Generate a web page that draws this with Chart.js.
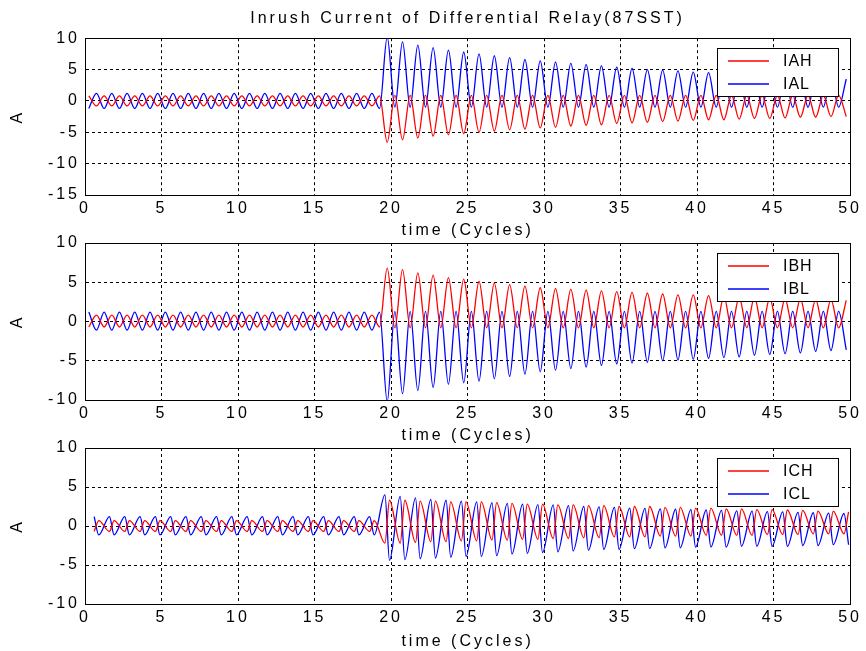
<!DOCTYPE html>
<html>
<head>
<meta charset="utf-8">
<script src="https://cdn.jsdelivr.net/npm/chart.js@4"></script>
<style>
  body { margin: 0; background: #fff; }
  .plot { position: absolute; left: 0; }
</style>
</head>
<body>
<canvas id="c1" class="plot" width="866" height="240" style="top:0px"></canvas>
<canvas id="c2" class="plot" width="866" height="230" style="top:215px"></canvas>
<canvas id="c3" class="plot" width="866" height="231" style="top:420px"></canvas>
<script>
// ---------- Data (per cycle peaks) ----------
var cycles = [0,1,2,3,4,5,6,7,8,9,10,11,12,13,14,15,16,17,18,19,20,21,22,23,24,
  25,26,27,28,29,30,31,32,33,34,35,36,37,38,39,40,41,42,43,44,45,46,47,48,49];
var xTicks = [0, 5, 10, 15, 20, 25, 30, 35, 40, 45, 50];

// phase A
var IAH_hi = [0.8,0.8,0.8,0.8,0.8,0.8,0.8,0.8,0.8,0.8,0.8,0.8,0.8,0.8,0.8,0.8,0.8,0.8,0.8,0.8,
  0.9,0.9,0.9,0.9,0.9,0.9,0.9,0.9,0.9,0.9,0.9,0.9,0.9,0.9,0.9,0.9,0.9,0.9,0.9,0.9,0.9,0.9,0.9,0.9,0.9,0.9,0.9,0.9,0.9,0.9];
var IAH_lo = [-0.8,-0.8,-0.8,-0.8,-0.8,-0.8,-0.8,-0.8,-0.8,-0.8,-0.8,-0.8,-0.8,-0.8,-0.8,-0.8,-0.8,-0.8,-0.8,
  -6.6,-6.2,-5.9,-5.6,-5.4,-5.2,-5.0,-4.8,-4.6,-4.5,-4.3,-4.2,-4.0,-3.9,-3.8,-3.6,-3.5,-3.4,-3.3,-3.2,-3.1,
  -3.0,-3.0,-2.9,-2.8,-2.8,-2.7,-2.6,-2.6,-2.5,-2.5];
var IAL_hi = [1.2,1.2,1.2,1.2,1.2,1.2,1.2,1.2,1.2,1.2,1.2,1.2,1.2,1.2,1.2,1.2,1.2,1.2,1.2,
  10.2,9.4,8.9,8.5,8.1,7.8,7.5,7.2,6.9,6.6,6.4,6.2,6.0,5.8,5.6,5.4,5.2,5.0,4.9,4.8,4.6,
  4.5,4.4,4.3,4.2,4.1,4.0,3.9,3.8,3.7,3.5];
var IAL_lo = [-1.2,-1.2,-1.2,-1.2,-1.2,-1.2,-1.2,-1.2,-1.2,-1.2,-1.2,-1.2,-1.2,-1.2,-1.2,-1.2,-1.2,-1.2,-1.2,-1.2,
  -1.0,-1.0,-1.0,-1.0,-1.0,-1.0,-1.0,-1.0,-1.0,-1.0,-1.0,-1.0,-1.0,-1.0,-1.0,-1.0,-1.0,-1.0,-1.0,-1.0,-1.0,-1.0,-1.0,-1.0,-1.0,-1.0,-1.0,-1.0,-1.0,-1.0];

// phase B
var IBH_hi = [0.8,0.8,0.8,0.8,0.8,0.8,0.8,0.8,0.8,0.8,0.8,0.8,0.8,0.8,0.8,0.8,0.8,0.8,0.8,
  6.8,6.6,6.2,5.9,5.6,5.4,5.1,4.9,4.7,4.5,4.3,4.2,4.1,4.0,3.9,3.8,3.7,3.6,3.5,3.4,3.4,
  3.3,3.2,3.1,3.1,3.0,2.9,2.9,2.8,2.8,2.7];
var IBH_lo = [-0.7,-0.7,-0.7,-0.7,-0.7,-0.7,-0.7,-0.7,-0.7,-0.7,-0.7,-0.7,-0.7,-0.7,-0.7,-0.7,-0.7,-0.7,-0.7,-0.7,
  -0.8,-0.8,-0.8,-0.8,-0.8,-0.8,-0.8,-0.8,-0.8,-0.8,-0.8,-0.8,-0.8,-0.8,-0.8,-0.8,-0.8,-0.8,-0.8,-0.8,-0.8,-0.8,-0.8,-0.8,-0.8,-0.8,-0.8,-0.8,-0.8,-0.8];
var IBL_hi = [1.2,1.2,1.2,1.2,1.2,1.2,1.2,1.2,1.2,1.2,1.2,1.2,1.2,1.2,1.2,1.2,1.2,1.2,1.2,1.2,
  1.3,1.3,1.3,1.3,1.3,1.3,1.3,1.3,1.3,1.3,1.3,1.3,1.3,1.3,1.3,1.3,1.3,1.3,1.3,1.3,1.3,1.3,1.3,1.3,1.3,1.3,1.3,1.3,1.3,1.3];
var IBL_lo = [-1.1,-1.1,-1.1,-1.1,-1.1,-1.1,-1.1,-1.1,-1.1,-1.1,-1.1,-1.1,-1.1,-1.1,-1.1,-1.1,-1.1,-1.1,-1.1,
  -10.2,-9.2,-8.8,-8.4,-8.0,-7.8,-7.6,-7.3,-7.0,-6.7,-6.4,-6.2,-6.0,-5.8,-5.6,-5.4,-5.3,-5.2,-5.0,-4.9,-4.8,
  -4.7,-4.6,-4.5,-4.3,-4.2,-4.1,-4.0,-3.8,-3.7,-3.6];

// phase C
var ICH_hi = [0.7,0.7,0.7,0.7,0.7,0.7,0.7,0.7,0.7,0.7,0.7,0.7,0.7,0.7,0.7,0.7,0.7,0.7,0.7,
  3.3,3.3,3.2,3.2,3.1,3.1,3.1,3.0,2.9,2.8,2.8,2.7,2.7,2.6,2.6,2.5,2.5,2.5,2.4,2.4,2.3,
  2.3,2.2,2.2,2.1,2.1,2.05,2.0,1.9,1.9,1.8];
var ICH_lo = [-0.7,-0.7,-0.7,-0.7,-0.7,-0.7,-0.7,-0.7,-0.7,-0.7,-0.7,-0.7,-0.7,-0.7,-0.7,-0.7,-0.7,-0.7,-0.7,
  -2.2,-2.2,-2.1,-2.0,-2.0,-1.9,-1.9,-1.8,-1.8,-1.7,-1.7,-1.6,-1.6,-1.5,-1.5,-1.4,-1.4,-1.4,-1.3,-1.3,
  -1.3,-1.2,-1.2,-1.2,-1.2,-1.1,-1.1,-1.1,-1.0,-1.0,-1.0];
var ICL_hi = [1.2,1.2,1.2,1.2,1.2,1.2,1.2,1.2,1.2,1.2,1.2,1.2,1.2,1.2,1.2,1.2,1.2,1.2,1.2,
  4.0,3.8,3.6,3.4,3.3,3.2,3.1,3.0,2.9,2.8,2.75,2.7,2.6,2.5,2.45,2.4,2.3,2.25,2.2,2.15,2.1,
  2.05,2.0,1.95,1.9,1.85,1.8,1.75,1.7,1.65,1.6];
var ICL_lo = [-1.15,-1.15,-1.15,-1.15,-1.15,-1.15,-1.15,-1.15,-1.15,-1.15,-1.15,-1.15,-1.15,-1.15,-1.15,-1.15,-1.15,-1.15,-1.15,
  -4.4,-4.3,-4.2,-4.1,-4.0,-3.9,-3.9,-3.8,-3.6,-3.5,-3.4,-3.3,-3.2,-3.1,-3.0,-3.0,-2.9,-2.9,-2.8,-2.8,
  -2.7,-2.7,-2.7,-2.6,-2.6,-2.6,-2.6,-2.5,-2.5,-2.4,-2.4];

var FONT = "'Liberation Sans', Arial, Helvetica, sans-serif";

// ---------- helpers ----------
// one point at the max and one at the min of every cycle, in time order
function wave(hi, lo, hiAt, loAt) {
  var pts = [];
  cycles.forEach(function (c, i) {
    pts.push({ x: c + hiAt, y: hi[i] });
    pts.push({ x: c + loAt, y: lo[i] });
  });
  pts.sort(function (a, b) { return a.x - b.x; });
  return pts;
}

function series(label, color, pts) {
  return {
    label: label,
    data: pts,
    borderColor: color,
    backgroundColor: color,
    borderWidth: 1.3,
    pointRadius: 0,
    cubicInterpolationMode: 'monotone',
    fill: false
  };
}

// the reference text is widely spaced
var spacingPlugin = {
  id: 'spacing',
  beforeLayout: function (chart) { chart.ctx.letterSpacing = '3px'; },
  beforeDraw: function (chart) { chart.ctx.letterSpacing = '3px'; }
};

// solid frame round the axes plus a boxed legend in the top right corner
var framePlugin = {
  id: 'frame',
  afterDraw: function (chart) {
    var a = chart.chartArea;
    var ctx = chart.ctx;
    ctx.save();
    ctx.setLineDash([]);
    ctx.strokeStyle = '#000';
    ctx.lineWidth = 1;
    ctx.strokeRect(Math.round(a.left) + 0.5, Math.round(a.top) + 0.5,
      Math.round(a.right - a.left), Math.round(a.bottom - a.top));

    var w = 121, h = 48;
    var x = Math.round(a.right) - 133;
    var y = Math.round(a.top) + 10;
    ctx.fillStyle = '#fff';
    ctx.fillRect(x, y, w, h);
    ctx.strokeRect(x + 0.5, y + 0.5, w, h);
    ctx.font = '16px ' + FONT;
    ctx.letterSpacing = '1px';
    ctx.textBaseline = 'middle';
    ctx.textAlign = 'left';
    chart.data.datasets.forEach(function (ds, i) {
      var ry = y + 13 + i * 23;
      ctx.lineWidth = 1.3;
      ctx.strokeStyle = ds.borderColor;
      ctx.beginPath();
      ctx.moveTo(x + 11, ry);
      ctx.lineTo(x + 52, ry);
      ctx.stroke();
      ctx.fillStyle = '#000';
      ctx.fillText(ds.label, x + 66, ry + 1);
    });
    ctx.restore();
  }
};

function makeChart(id, sets, yMin, yMax, opts) {
  var ctx = document.getElementById(id).getContext('2d');
  return new Chart(ctx, {
    type: 'line',
    data: { datasets: sets },
    options: {
      responsive: false,
      animation: false,
      layout: { padding: { top: opts.padTop, right: 11, left: 0, bottom: 0 } },
      plugins: {
        legend: { display: false },
        tooltip: { enabled: false },
        title: {
          display: !!opts.title,
          text: opts.title || '',
          color: '#000',
          fullSize: false,
          font: { family: FONT, size: 16, weight: 'normal' },
          padding: { top: 9, bottom: 10 }
        }
      },
      scales: {
        x: {
          type: 'linear',
          min: 0,
          max: 50,
          afterBuildTicks: function (s) { s.ticks = xTicks.map(function (v) { return { value: v }; }); },
          ticks: { color: '#000', padding: 4, maxRotation: 0, font: { family: FONT, size: 16 } },
          grid: { color: '#000', drawTicks: false, lineWidth: 1 },
          border: { color: '#000', dash: [3, 3] },
          title: {
            display: true, text: 'time (Cycles)', color: '#000',
            font: { family: FONT, size: 16 }, padding: { top: 0, bottom: 0 }
          },
          afterFit: function (s) { s.height = opts.xH; }
        },
        y: {
          min: yMin,
          max: yMax,
          ticks: { stepSize: 5, color: '#000', padding: 5, font: { family: FONT, size: 16 } },
          grid: { color: '#000', drawTicks: false, lineWidth: 1 },
          border: { color: '#000', dash: [3, 3] },
          title: {
            display: true, text: 'A', color: '#000',
            font: { family: FONT, size: 16 }, padding: { top: 8, bottom: 0 }
          },
          afterFit: function (s) { s.width = 85; }
        }
      }
    },
    plugins: [spacingPlugin, framePlugin]
  });
}

makeChart('c1', [
  series('IAH', '#ff0000', wave(IAH_hi, IAH_lo, 0.25, 0.75)),
  series('IAL', '#0000ff', wave(IAL_hi, IAL_lo, 0.75, 0.25))
], -15, 10, { padTop: 0, xH: 45, title: 'Inrush Current of Differential Relay(87SST)' });

makeChart('c2', [
  series('IBH', '#ff0000', wave(IBH_hi, IBH_lo, 0.75, 0.25)),
  series('IBL', '#0000ff', wave(IBL_hi, IBL_lo, 0.25, 0.75))
], -10, 10, { padTop: 28, xH: 45 });

makeChart('c3', [
  series('ICH', '#ff0000', wave(ICH_hi, ICH_lo, 0.9, 0.6)),
  series('ICL', '#0000ff', wave(ICL_hi, ICL_lo, 0.6, 0.9))
], -10, 10, { padTop: 28, xH: 47 });
</script>
</body>
</html>
